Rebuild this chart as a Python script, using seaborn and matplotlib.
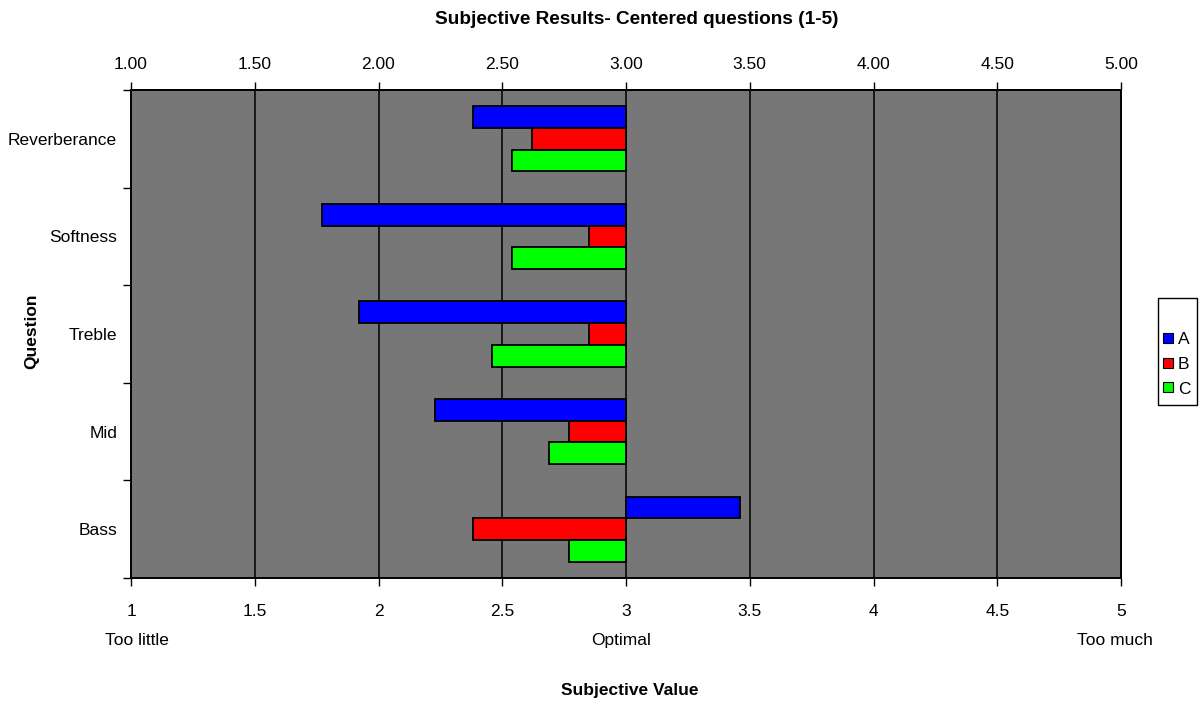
import matplotlib
matplotlib.use("Agg")
import matplotlib.pyplot as plt
from matplotlib.lines import Line2D
from matplotlib.patches import Rectangle
from matplotlib.ticker import FormatStrFormatter, FixedLocator
import numpy as np
import pandas as pd
import seaborn as sns

# Mean subjective ratings per question (1 = too little, 3 = optimal, 5 = too much)
questions = ["Reverberance", "Softness", "Treble", "Mid", "Bass"]
series = ["A", "B", "C"]
values_a = [2.38, 1.77, 1.92, 2.23, 3.46]
values_b = [2.62, 2.85, 2.85, 2.77, 2.38]
values_c = [2.54, 2.54, 2.46, 2.69, 2.77]
colors = ["#0000FF", "#FF0000", "#00FF00"]
center = 3.0
x_ticks = [1, 1.5, 2, 2.5, 3, 3.5, 4, 4.5, 5]
scale_words = ["Too little", "Optimal", "Too much"]

rows = []
for name, vals in zip(series, [values_a, values_b, values_c]):
    for q, v in zip(questions, vals):
        rows.append({"Question": q, "Series": name, "Value": v, "Offset": v - center})
df = pd.DataFrame(rows)

sns.set_theme(style="white")
plt.rcParams["font.family"] = ["Liberation Sans", "DejaVu Sans"]
plt.rcParams.update({"text.color": "black", "axes.labelcolor": "black",
                     "xtick.color": "black", "ytick.color": "black"})
FS = 12.5

W, H = 1199, 702
fig = plt.figure(figsize=(W / 100, H / 100), dpi=100)
ax = fig.add_axes([131 / W, 1 - 578 / H, 990 / W, 488 / H])
ax.set_facecolor("#777777")

# bars start at the centre value and run to each mean
sns.barplot(data=df, x="Offset", y="Question", hue="Series", order=questions,
            hue_order=series, palette=colors, width=0.667, orient="h",
            left=center, edgecolor="black", linewidth=1.3, saturation=1,
            legend=False, ax=ax, zorder=3)

ax.set_xlim(1, 5)
ax.set_ylim(4.5, -0.5)
ax.xaxis.set_major_locator(FixedLocator(x_ticks))
ax.xaxis.set_major_formatter(FormatStrFormatter("%g"))
for xv in x_ticks[1:-1]:
    ax.axvline(xv, color="black", linewidth=1.1, zorder=1)

for s in ax.spines.values():
    s.set_color("black")
    s.set_linewidth(1.4)

ax.tick_params(axis="x", which="major", direction="out", length=6, width=1,
               color="black", labelcolor="black", pad=13, labelsize=FS, bottom=True)
ax.set_yticks(range(len(questions)))
ax.set_yticklabels(questions)
ax.set_yticks(np.arange(-0.5, len(questions), 1.0), minor=True)
ax.tick_params(axis="y", which="major", length=0, pad=10, labelsize=FS,
               labelcolor="black")
ax.tick_params(axis="y", which="minor", direction="out", length=6, width=1,
               color="black", left=True)

top = ax.secondary_xaxis("top")
top.xaxis.set_major_locator(FixedLocator(x_ticks))
top.xaxis.set_major_formatter(FormatStrFormatter("%.2f"))
top.tick_params(direction="out", length=6, width=1, color="black",
                labelcolor="black", pad=7, labelsize=FS)
top.spines["top"].set_linewidth(1.4)

ax.set_xlabel("")
ax.set_ylabel("")

fig.text(637 / W, 1 - 20 / H, "Subjective Results- Centered questions (1-5)",
         ha="center", va="center", fontsize=13.7, fontweight="bold")
fig.text(630 / W, 1 - 690 / H, "Subjective Value", ha="center", va="center",
         fontsize=12.5, fontweight="bold")
fig.text(32 / W, 1 - 331 / H, "Question", ha="center", va="center",
         fontsize=12.5, fontweight="bold", rotation=90)

for word, xp in zip(scale_words, [137, 621, 1115]):
    fig.text(xp / W, 1 - 645 / H, word, ha="center", va="baseline", fontsize=FS)

# narrow legend box at the right edge
fig.patches.append(Rectangle((1158 / W, 1 - 405 / H), 39 / W, 107 / H,
                             transform=fig.transFigure, facecolor="white",
                             edgecolor="black", linewidth=1.0, zorder=1))
handles = [Line2D([0], [0], marker="s", linestyle="none", markersize=7,
                  markerfacecolor=c, markeredgecolor="black", markeredgewidth=0.8)
           for c in colors]
leg = fig.legend(handles, series, loc="upper left",
                 bbox_to_anchor=(1163 / W, 1 - 332 / H), frameon=False,
                 fontsize=FS, handlelength=0.55, handletextpad=0.3,
                 labelspacing=0.55, borderpad=0, borderaxespad=0)
leg.set_zorder(2)

fig.savefig("out.png", dpi=100)
